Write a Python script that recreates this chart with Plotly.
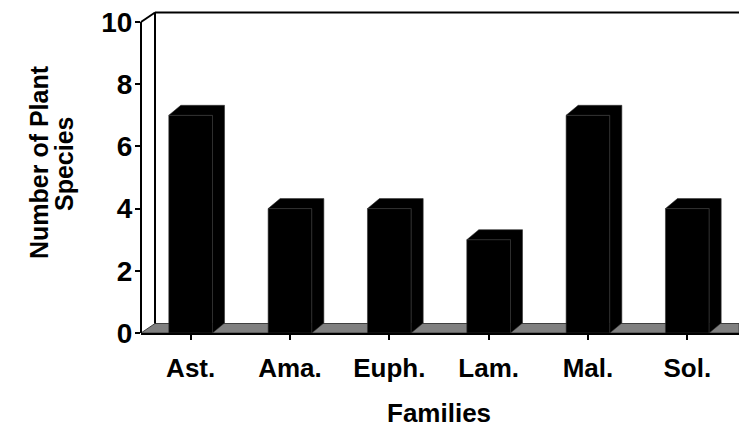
import plotly.graph_objects as go

# Plant species counted per family
families = ["Ast.", "Ama.", "Euph.", "Lam.", "Mal.", "Sol."]
species_counts = [7, 4, 4, 3, 7, 4]
y_ticks = [0, 2, 4, 6, 8, 10]

W, H = 739, 436
M_L, M_R, M_T, M_B = 141, 0, 13, 103
X_MIN = -0.5
X_MAX = X_MIN + (W - M_L - M_R) / 99.33
Y_MAX = 10.0 * (H - M_T - M_B) / 311.0

plot_w = W - M_L - M_R
plot_h = H - M_T - M_B
ux = plot_w / (X_MAX - X_MIN)   # pixels per category
uy = plot_h / Y_MAX             # pixels per species

# 3-D projection offsets (pixels) for the back wall and for bar depth
WALL_DX, WALL_DY = 14, 9.5
BAR_DX, BAR_DY = 12, 10
BAR_W = 0.44

FONT = "Arial, Liberation Sans, sans-serif"


def px(x):
    return (x - X_MIN) / (X_MAX - X_MIN)


def py(y):
    return y / Y_MAX


wdx, wdy = WALL_DX / ux, WALL_DY / uy
bdx, bdy = BAR_DX / ux, BAR_DY / uy

fig = go.Figure()

# front faces of the columns
fig.add_trace(go.Bar(
    x=list(range(len(families))), y=species_counts, width=BAR_W,
    marker=dict(color="black", line=dict(color="#333333", width=0.6)),
    hoverinfo="skip", showlegend=False,
))

# top and side faces of the columns, projected into depth
xs, ys = [], []
for i, v in enumerate(species_counts):
    x0, x1 = i - BAR_W / 2, i + BAR_W / 2
    xs += [x0, x0 + bdx, x1 + bdx, x1 + bdx, x1, x1, x0, None]
    ys += [v, v + bdy, v + bdy, bdy, 0, v, v, None]
fig.add_trace(go.Scatter(
    x=xs, y=ys, mode="lines", fill="toself", fillcolor="black",
    line=dict(color="#333333", width=0.6), hoverinfo="skip", showlegend=False,
))

shapes = []
# floor
shapes.append(dict(
    type="path", xref="paper", yref="paper", layer="below",
    path=(f"M{px(X_MIN)},{py(0)} L{px(X_MIN + wdx)},{py(wdy)} "
          f"L{px(X_MAX)},{py(wdy)} L{px(X_MAX)},{py(0)} Z"),
    fillcolor="#808080", line=dict(color="#404040", width=1),
))
# back wall outline: left edge, top edge, corner diagonal
shapes.append(dict(
    type="line", xref="paper", yref="paper", layer="below",
    x0=px(X_MIN + wdx), y0=py(wdy), x1=px(X_MIN + wdx), y1=py(10 + wdy),
    line=dict(color="black", width=2),
))
shapes.append(dict(
    type="line", xref="paper", yref="paper", layer="below",
    x0=px(X_MIN + wdx), y0=py(10 + wdy), x1=px(X_MAX), y1=py(10 + wdy),
    line=dict(color="black", width=2),
))
shapes.append(dict(
    type="line", xref="paper", yref="paper", layer="below",
    x0=px(X_MIN), y0=py(10), x1=px(X_MIN + wdx), y1=py(10 + wdy),
    line=dict(color="black", width=2),
))
# front value axis
shapes.append(dict(
    type="line", xref="paper", yref="paper", layer="above",
    x0=px(X_MIN), y0=py(0), x1=px(X_MIN), y1=py(10),
    line=dict(color="black", width=2),
))


def bold(size):
    return dict(family=FONT, size=size, weight="bold", color="black")


fig.update_layout(
    width=W, height=H,
    margin=dict(l=M_L, r=M_R, t=M_T, b=M_B),
    paper_bgcolor="white", plot_bgcolor="white",
    shapes=shapes,
    font=dict(family=FONT, size=26, color="black"),
    xaxis=dict(
        range=[X_MIN, X_MAX], tickmode="array",
        tickvals=list(range(len(families))), ticktext=families,
        tickson="boundaries", ticks="outside", ticklen=5, tickwidth=1.5,
        tickcolor="black", showline=True, linecolor="black", linewidth=2,
        showgrid=False, zeroline=False, ticklabelstandoff=6,
        tickfont=bold(26),
    ),
    yaxis=dict(
        range=[0, Y_MAX], tickmode="array", tickvals=y_ticks,
        ticks="outside", ticklen=5, tickwidth=1.5, tickcolor="black",
        showline=False, showgrid=False, zeroline=False,
        ticklabelstandoff=-3, tickfont=bold(28),
    ),
    annotations=[
        dict(text="Families", xref="paper", yref="paper",
             x=px(2.5), y=-(430 - (H - M_B)) / plot_h, yanchor="bottom",
             showarrow=False, font=bold(26)),
        dict(text="Number of Plant", xref="paper", yref="paper",
             x=-(M_L - 39) / plot_w, xanchor="center",
             y=1 - (162 - M_T) / plot_h, yanchor="middle", textangle=-90,
             showarrow=False, font=bold(25)),
        dict(text="Species", xref="paper", yref="paper",
             x=-(M_L - 64) / plot_w, xanchor="center",
             y=1 - (164 - M_T) / plot_h, yanchor="middle", textangle=-90,
             showarrow=False, font=bold(25)),
    ],
)

fig.write_html("out.html")
